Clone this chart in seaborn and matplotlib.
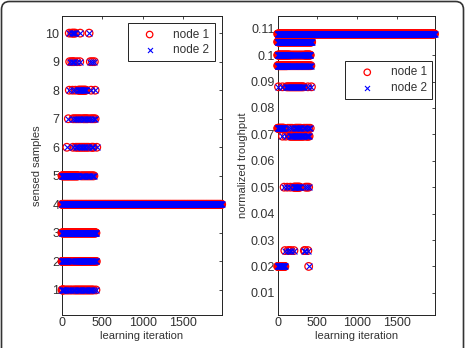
import matplotlib
matplotlib.use('Agg')
import matplotlib.pyplot as plt
import pandas as pd
import seaborn as sns
from matplotlib.patches import FancyBboxPatch

# each level: runs of learning iterations where it was picked, (first, last, step)
samples_levels = [1, 2, 3, 4, 5, 6, 7, 8, 9, 10]
samples_runs = [
    [(0, 20, 5), (40, 130, 18), (150, 400, 15), (420, 420, 1)],
    [(0, 60, 5), (80, 200, 15), (210, 330, 6), (345, 430, 10)],
    [(0, 420, 4)],
    [(0, 1975, 5)],
    [(0, 200, 5), (230, 400, 15)],
    [(60, 60, 1), (135, 135, 1), (170, 340, 20), (365, 400, 12), (430, 430, 1)],
    [(78, 78, 1), (135, 240, 20), (260, 330, 15), (350, 415, 20)],
    [(90, 90, 1), (130, 130, 1), (165, 165, 1), (200, 300, 8), (360, 360, 1), (410, 410, 1)],
    [(95, 95, 1), (120, 150, 15), (185, 185, 1), (220, 220, 1), (350, 350, 1), (375, 400, 25)],
    [(90, 90, 1), (120, 165, 15), (225, 225, 1), (335, 335, 1)],
]

throughput_levels = [0.108, 0.105, 0.1, 0.096, 0.088, 0.0723, 0.0693, 0.05, 0.026, 0.02]
throughput_runs = [
    [(0, 1975, 5)],
    [(0, 430, 4)],
    [(0, 150, 5), (160, 330, 12), (340, 410, 5)],
    [(0, 120, 5), (130, 420, 12)],
    [(10, 10, 1), (60, 60, 1), (110, 330, 12), (380, 380, 1), (425, 425, 1)],
    [(0, 80, 5), (130, 180, 25), (220, 300, 12), (330, 415, 20)],
    [(60, 60, 1), (100, 100, 1), (150, 330, 12), (360, 400, 12)],
    [(80, 80, 1), (120, 120, 1), (160, 160, 1), (200, 280, 8), (350, 390, 20)],
    [(90, 90, 1), (130, 170, 20), (205, 205, 1), (335, 345, 10), (380, 380, 1)],
    [(0, 90, 5), (390, 390, 1)],
]

x_ticks = [0, 500, 1000, 1500]
samples_ticks = [1, 2, 3, 4, 5, 6, 7, 8, 9, 10]
throughput_ticks = [0.01, 0.02, 0.03, 0.04, 0.05, 0.06, 0.07, 0.08, 0.09, 0.1, 0.11]
throughput_ticklabels = ['0.01', '0.02', '0.03', '0.04', '0.05', '0.06',
                         '0.07', '0.08', '0.09', '0.1', '0.11']


def expand(levels, runs):
    rows = []
    for level, level_runs in zip(levels, runs):
        for first, last, step in level_runs:
            for it in range(first, last + 1, step):
                rows.append((it, level))
    return pd.DataFrame(rows, columns=['iteration', 'value'])


def draw_panel(ax, df, ylim, yticks, yticklabels, ylabel, anchor):
    # both nodes pick the same levels, node 2 is drawn on top
    sns.scatterplot(data=df, x='iteration', y='value', ax=ax, marker='o', s=30,
                    facecolor='none', edgecolor='red', linewidth=0.9,
                    label='node 1', clip_on=False, zorder=3)
    sns.scatterplot(data=df, x='iteration', y='value', ax=ax, marker='x', s=18,
                    color='blue', linewidth=0.8,
                    label='node 2', clip_on=False, zorder=4)
    ax.set_xlim(0, 1975)
    ax.set_ylim(*ylim)
    ax.set_xticks(x_ticks)
    ax.set_yticks(yticks)
    ax.set_yticklabels(yticklabels)
    ax.set_xlabel('learning iteration', fontsize=8, color='#333', labelpad=1)
    ax.set_ylabel(ylabel, fontsize=8, color='#333', labelpad=2)
    ax.tick_params(direction='in', length=2.5, width=0.6, top=True, right=True,
                   labelsize=9, labelcolor='#333', pad=2)
    for sp in ax.spines.values():
        sp.set_visible(True)
        sp.set_linewidth(0.7)
        sp.set_color('#222')
    leg = ax.legend(loc='upper right', bbox_to_anchor=anchor, fontsize=8.5,
                    frameon=True, fancybox=False, framealpha=1, edgecolor='#222',
                    borderpad=0.45, handletextpad=0.6, labelspacing=0.3,
                    handlelength=2.8, borderaxespad=0, markerscale=0.85)
    leg.get_frame().set_linewidth(0.7)
    for t in leg.get_texts():
        t.set_color('#333')


sns.set_theme(style='white')
plt.rcParams['font.family'] = ['Liberation Sans', 'DejaVu Sans']

fig = plt.figure(figsize=(4.65, 3.48), dpi=100)
ax1 = fig.add_axes([62 / 465, 1 - 314.5 / 348, 159.7 / 465, 298.5 / 348])
ax2 = fig.add_axes([277.7 / 465, 1 - 314.5 / 348, 156.8 / 465, 298.5 / 348])

draw_panel(ax1, expand(samples_levels, samples_runs), (0.14, 10.6),
           samples_ticks, [str(v) for v in samples_ticks], 'sensed samples',
           (0.956, 0.9755))
draw_panel(ax2, expand(throughput_levels, throughput_runs), (0.0018, 0.1148),
           throughput_ticks, throughput_ticklabels, 'normalized troughput',
           (0.986, 0.849))

# rounded frame around the whole figure
frame = FancyBboxPatch((0.015, -0.2), 4.62, 3.665, boxstyle='round,pad=0,rounding_size=0.08',
                       transform=fig.dpi_scale_trans, facecolor='none',
                       edgecolor='#333', linewidth=1.2)
fig.add_artist(frame)

fig.savefig('out.png', dpi=100)
